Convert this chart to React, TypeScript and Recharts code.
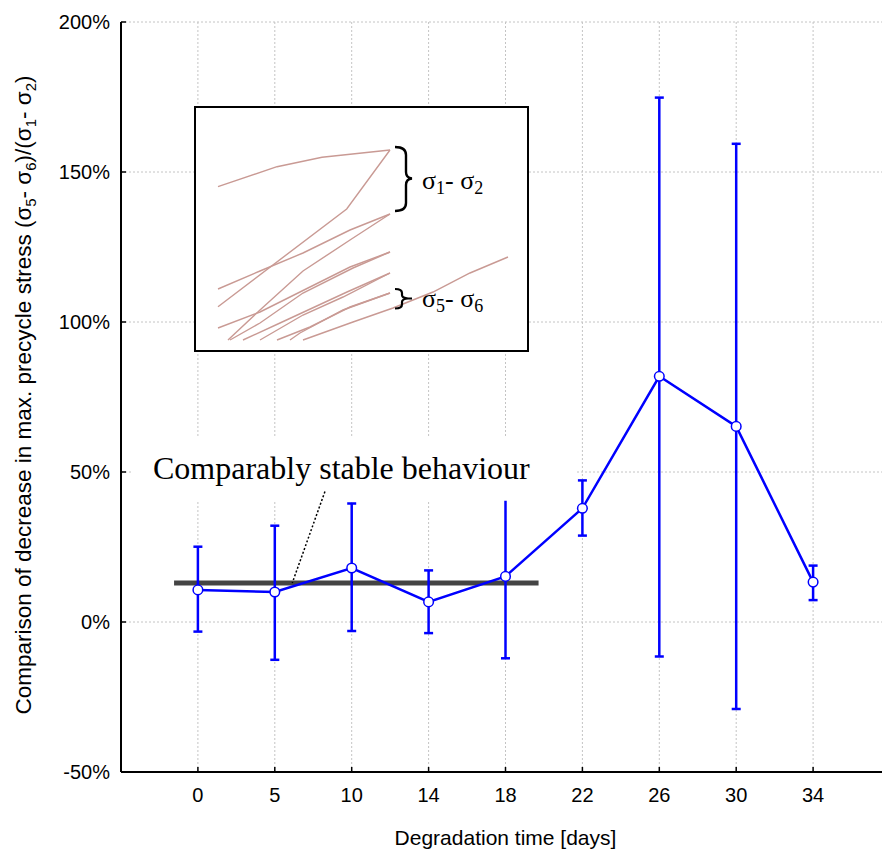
import React from 'react';
import {
  LineChart, Line, XAxis, YAxis, CartesianGrid, ErrorBar,
  ReferenceLine, ReferenceArea,
} from 'recharts';

// ---- data ----
const categories = ['0', '5', '10', '14', '18', '22', '26', '30', '34'];
const meanValues = [10.7, 10.0, 18.0, 6.7, 15.2, 37.9, 81.9, 65.2, 13.3];
const upperValues = [25.1, 32.1, 39.5, 17.2, 42.0, 47.2, 174.8, 159.4, 18.8];
const lowerValues = [-3.2, -12.6, -3.0, -3.7, -12.1, 28.8, -11.5, -29.0, 7.3];
const yTicks = [-50, 0, 50, 100, 150, 200];
const xTicks = [0, 1, 2, 3, 4, 5, 6, 7, 8];
const stableLevel = 13.0;
const stableRange = [-0.31, 4.43];
const annotationText = 'Comparably stable behaviour';
const pointerFrom = { x: 1.652, y: 43.5 };
const pointerTo = { x: 1.227, y: 13.0 };
const textBox = { x1: -0.857, x2: 4.927, y1: 40.4, y2: 61.8 };

// inset (schematic stress curves), inset-local units
const insetLines: { x: number; y: number }[][] = [
  [{ x: 22, y: 163.3 }, { x: 81, y: 183.3 }, { x: 126, y: 192.7 }, { x: 194, y: 200 }],
  [{ x: 22, y: 43.3 }, { x: 150.7, y: 141 }, { x: 194, y: 200 }],
  [{ x: 22, y: 61 }, { x: 64, y: 79 }, { x: 107, y: 97 }, { x: 154, y: 120 }, { x: 194, y: 136 }],
  [{ x: 32, y: 10 }, { x: 64, y: 40 }, { x: 107, y: 79 }, { x: 154, y: 110 }, { x: 194, y: 136 }],
  [{ x: 22, y: 22 }, { x: 64, y: 38 }, { x: 114, y: 63 }, { x: 154, y: 83 }, { x: 194, y: 98 }],
  [{ x: 34, y: 10 }, { x: 64, y: 27 }, { x: 107, y: 57 }, { x: 157, y: 82 }, { x: 194, y: 98 }],
  [{ x: 47, y: 10 }, { x: 84, y: 27 }, { x: 151, y: 58 }, { x: 194, y: 77 }],
  [{ x: 64, y: 10 }, { x: 107, y: 35 }, { x: 147, y: 53 }, { x: 194, y: 77 }],
  [{ x: 94, y: 10 }, { x: 104, y: 17 }, { x: 147, y: 40 }, { x: 194, y: 57 }],
  [{ x: 81, y: 10 }, { x: 114, y: 23 }, { x: 154, y: 43 }, { x: 194, y: 57 }],
  [{ x: 107, y: 10 }, { x: 157, y: 28 }, { x: 197, y: 42 }, { x: 237, y: 58 }, { x: 274, y: 77 }, { x: 312, y: 93 }],
];

const data = categories.map((c, i) => ({
  x: i,
  label: c,
  y: meanValues[i],
  err: [meanValues[i] - lowerValues[i], upperValues[i] - meanValues[i]],
}));

const BLUE = '#0000ff';
const SANS = 'Arial, "Liberation Sans", Helvetica, sans-serif';
const SERIF = '"Times New Roman", "Liberation Serif", serif';

const YLabel = (props: any) => {
  const vb = props.viewBox || { x: 0, y: 22, width: 121, height: 750 };
  const cx = 31;
  const cy = vb.y + vb.height / 2 - 2;
  return (
    <text
      x={cx}
      y={cy}
      transform={`rotate(-90 ${cx} ${cy})`}
      textAnchor="middle"
      fontFamily={SANS}
      fontSize={22.5}
      fill="#000"
    >
      Comparison of decrease in max. precycle stress (σ
      <tspan fontSize={15} dy={5}>5</tspan>
      <tspan dy={-5}>- σ</tspan>
      <tspan fontSize={15} dy={5}>6</tspan>
      <tspan dy={-5}>)/(σ</tspan>
      <tspan fontSize={15} dy={5}>1</tspan>
      <tspan dy={-5}>- σ</tspan>
      <tspan fontSize={15} dy={5}>2</tspan>
      <tspan dy={-5}>)</tspan>
    </text>
  );
};

const XLabel = (props: any) => {
  const vb = props.viewBox || { x: 121, y: 772, width: 769, height: 77 };
  return (
    <text
      x={vb.x + vb.width / 2}
      y={vb.y + 73}
      textAnchor="middle"
      fontFamily={SANS}
      fontSize={21}
      fill="#000"
    >
      Degradation time [days]
    </text>
  );
};

const BoxLabel = (props: any) => {
  const vb = props.viewBox || { x: 0, y: 0 };
  return (
    <text
      x={vb.x + 21}
      y={vb.y + 42}
      fontFamily={SERIF}
      fontSize={32}
      fill="#000"
    >
      {annotationText}
    </text>
  );
};

const Inset = () => (
  <div
    style={{
      position: 'absolute',
      left: 194,
      top: 106,
      width: 335,
      height: 246,
      border: '2px solid #000',
      boxSizing: 'border-box',
      background: '#fff',
    }}
  >
    <LineChart width={331} height={242} margin={{ top: 0, right: 0, bottom: 0, left: 0 }}>
      <XAxis type="number" dataKey="x" domain={[0, 331]} hide />
      <YAxis type="number" domain={[0, 242]} hide />
      {insetLines.map((ln, i) => (
        <Line
          key={i}
          data={ln}
          dataKey="y"
          stroke="#c99a94"
          strokeWidth={1.4}
          dot={false}
          isAnimationActive={false}
        />
      ))}
    </LineChart>
    <svg
      width={331}
      height={242}
      style={{ position: 'absolute', left: 0, top: 0, overflow: 'visible' }}
    >
      <path
        d="M 199 39 Q 210 39 210 47 L 210 64 Q 210 70 216 70.5 Q 210 71 210 77 L 210 95 Q 210 103 199 103"
        fill="none"
        stroke="#000"
        strokeWidth={2.4}
      />
      <path
        d="M 199 181 Q 206 181 206 185 L 206 187 Q 206 190 212 190.5 L 216 190.5 M 212 190.5 Q 206 191 206 194 L 206 196.5 Q 206 200.5 199 200.5"
        fill="none"
        stroke="#000"
        strokeWidth={2.2}
      />
      <text x={226} y={81} fontFamily={SERIF} fontSize={26} fill="#000">
        σ<tspan fontSize={18} dy={5}>1</tspan>
        <tspan dy={-5}>- σ</tspan>
        <tspan fontSize={18} dy={5}>2</tspan>
      </text>
      <text x={226} y={199} fontFamily={SERIF} fontSize={26} fill="#000">
        σ<tspan fontSize={18} dy={5}>5</tspan>
        <tspan dy={-5}>- σ</tspan>
        <tspan fontSize={18} dy={5}>6</tspan>
      </text>
    </svg>
  </div>
);

export default function App() {
  return (
    <div
      style={{
        position: 'absolute',
        left: 0,
        top: 0,
        width: 882,
        height: 849,
        overflow: 'hidden',
        background: '#fff',
      }}
    >
      <LineChart
        width={900}
        height={849}
        data={data}
        margin={{ top: 22, right: 10, bottom: 0, left: 0 }}
      >
        <CartesianGrid stroke="#c4c4c4" strokeDasharray="2 2" />
        <XAxis
          dataKey="x"
          type="number"
          domain={[-1, 9]}
          ticks={xTicks}
          tickFormatter={(v: number) => categories[v] ?? ''}
          height={77}
          tickSize={-5}
          tickMargin={21}
          axisLine={{ stroke: '#000', strokeWidth: 2 }}
          tickLine={{ stroke: '#000', strokeWidth: 1.5 }}
          tick={{ fill: '#000', fontSize: 20, fontFamily: SANS }}
          label={<XLabel />}
          allowDataOverflow
        />
        <XAxis
          xAxisId="top"
          orientation="top"
          type="number"
          domain={[-1, 9]}
          ticks={xTicks}
          tickFormatter={() => ''}
          height={0}
          tickSize={-5}
          axisLine={{ stroke: '#000', strokeWidth: 2 }}
          tickLine={{ stroke: '#000', strokeWidth: 1.5 }}
        />
        <YAxis
          type="number"
          domain={[-50, 200]}
          ticks={yTicks}
          tickFormatter={(v: number) => `${v}%`}
          width={121}
          tickSize={-5}
          tickMargin={16}
          axisLine={{ stroke: '#000', strokeWidth: 2 }}
          tickLine={{ stroke: '#000', strokeWidth: 1.5 }}
          tick={{ fill: '#000', fontSize: 20, fontFamily: SANS }}
          label={<YLabel />}
          allowDataOverflow
        />
        <ReferenceLine
          segment={[{ x: stableRange[0], y: stableLevel }, { x: stableRange[1], y: stableLevel }]}
          stroke="#444444"
          strokeWidth={5}
          ifOverflow="visible"
        />
        <Line
          dataKey="y"
          stroke={BLUE}
          strokeWidth={2.5}
          dot={{ r: 4.8, fill: '#fff', stroke: BLUE, strokeWidth: 1.5 }}
          isAnimationActive={false}
        >
          <ErrorBar dataKey="err" direction="y" stroke={BLUE} strokeWidth={2.5} width={4.5} />
        </Line>
        <ReferenceArea
          x1={textBox.x1}
          x2={textBox.x2}
          y1={textBox.y1}
          y2={textBox.y2}
          fill="#ffffff"
          fillOpacity={1}
          stroke="none"
          ifOverflow="visible"
          label={<BoxLabel />}
          {...({ zIndex: 1500 } as any)}
        />
        <ReferenceLine
          segment={[pointerFrom, pointerTo]}
          stroke="#000"
          strokeWidth={1.5}
          strokeDasharray="2 2"
          ifOverflow="visible"
          {...({ zIndex: 1600 } as any)}
        />
      </LineChart>
      <Inset />
    </div>
  );
}
